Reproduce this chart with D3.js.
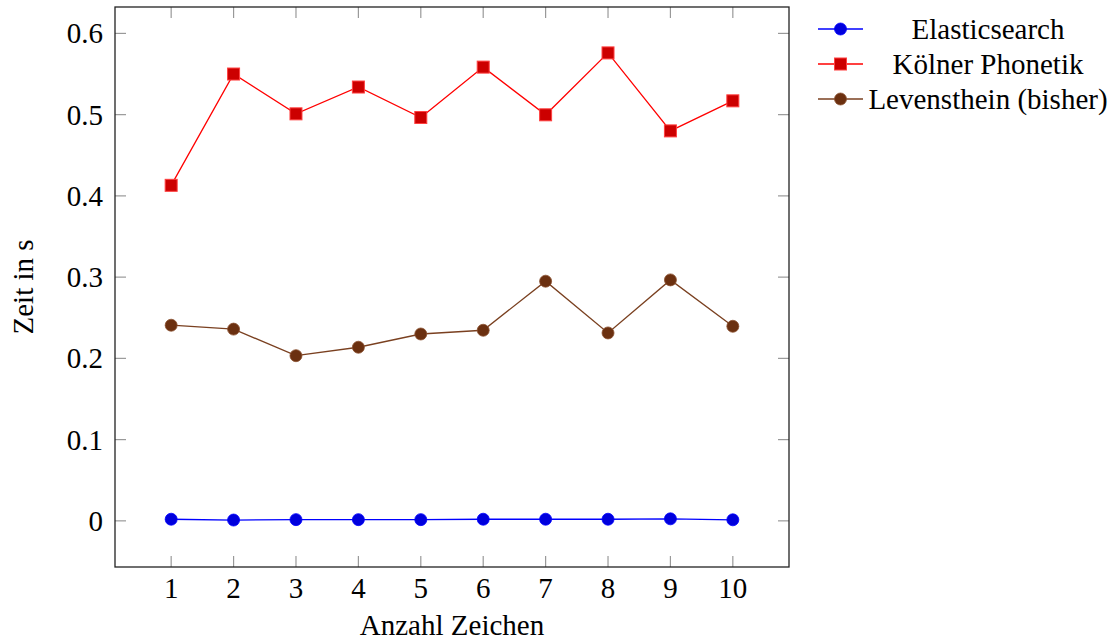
<!DOCTYPE html>
<html>
<head>
<meta charset="utf-8">
<script src="https://cdn.jsdelivr.net/npm/d3@7"></script>
<style>
  html, body { margin: 0; padding: 0; background: #fff; }
  svg { display: block; font-family: "Liberation Serif", "Times New Roman", serif; }
</style>
</head>
<body>
<div id="chart"></div>
<script>
// Data
const zeichen = [1, 2, 3, 4, 5, 6, 7, 8, 9, 10];
const elasticsearch = [0.002, 0.001, 0.0015, 0.0015, 0.0015, 0.002, 0.002, 0.002, 0.0025, 0.0013];
const koelnerPhonetik = [0.413, 0.550, 0.501, 0.534, 0.4965, 0.5585, 0.4998, 0.576, 0.480, 0.517];
const levenshtein = [0.2408, 0.236, 0.2033, 0.2137, 0.230, 0.2346, 0.295, 0.2313, 0.2966, 0.2395];
const yTicks = [0, 0.1, 0.2, 0.3, 0.4, 0.5, 0.6];

const series = [
  { name: "Elasticsearch", values: elasticsearch, line: "#0000ff", fill: "#0000dd", stroke: "#0000ff", mark: "circle" },
  { name: "Kölner Phonetik", values: koelnerPhonetik, line: "#ff0000", fill: "#cc0000", stroke: "#ff4040", mark: "square" },
  { name: "Levensthein (bisher)", values: levenshtein, line: "#7a4020", fill: "#6b3010", stroke: "#8a5030", mark: "circle" }
];

const width = 1115, height = 640;
const margin = { left: 115, right: 326, top: 7, bottom: 73 };
const fs = 29;

const svg = d3.select("#chart").append("svg")
  .attr("width", width)
  .attr("height", height);

const x = d3.scaleLinear()
  .domain([0.1, 10.9])
  .range([margin.left, width - margin.right]);

const y = d3.scaleLinear()
  .domain([-0.0568, 0.6325])
  .range([height - margin.bottom, margin.top]);

const tickLen = 11;
const tickColor = "#999";

// mirrored inward ticks
const gTicks = svg.append("g");
gTicks.selectAll("line.xb").data(zeichen).enter().append("line")
  .attr("x1", d => x(d)).attr("x2", d => x(d))
  .attr("y1", y.range()[0]).attr("y2", y.range()[0] - tickLen)
  .attr("stroke", tickColor).attr("stroke-width", 1.2);
gTicks.selectAll("line.xt").data(zeichen).enter().append("line")
  .attr("x1", d => x(d)).attr("x2", d => x(d))
  .attr("y1", y.range()[1]).attr("y2", y.range()[1] + tickLen)
  .attr("stroke", tickColor).attr("stroke-width", 1.2);
gTicks.selectAll("line.yl").data(yTicks).enter().append("line")
  .attr("y1", d => y(d)).attr("y2", d => y(d))
  .attr("x1", x.range()[0]).attr("x2", x.range()[0] + tickLen)
  .attr("stroke", tickColor).attr("stroke-width", 1.2);
gTicks.selectAll("line.yr").data(yTicks).enter().append("line")
  .attr("y1", d => y(d)).attr("y2", d => y(d))
  .attr("x1", x.range()[1]).attr("x2", x.range()[1] - tickLen)
  .attr("stroke", tickColor).attr("stroke-width", 1.2);

// frame
svg.append("rect")
  .attr("x", x.range()[0]).attr("y", y.range()[1])
  .attr("width", x.range()[1] - x.range()[0])
  .attr("height", y.range()[0] - y.range()[1])
  .attr("fill", "none").attr("stroke", "#222").attr("stroke-width", 1.3);

// tick labels
svg.append("g").selectAll("text").data(zeichen).enter().append("text")
  .attr("x", d => x(d)).attr("y", 598)
  .attr("text-anchor", "middle").attr("font-size", fs)
  .text(d => d);
svg.append("g").selectAll("text").data(yTicks).enter().append("text")
  .attr("x", x.range()[0] - 12).attr("y", d => y(d) + 10)
  .attr("text-anchor", "end").attr("font-size", fs)
  .text(d => d3.format("")(d));

// axis labels
svg.append("text")
  .attr("x", (x.range()[0] + x.range()[1]) / 2).attr("y", 635)
  .attr("text-anchor", "middle").attr("font-size", fs)
  .text("Anzahl Zeichen");
svg.append("text")
  .attr("transform", `translate(33,${(y.range()[0] + y.range()[1]) / 2}) rotate(-90)`)
  .attr("text-anchor", "middle").attr("font-size", fs)
  .text("Zeit in s");

const line = d3.line().x((d, i) => x(zeichen[i])).y(d => y(d));

function drawMark(g, s, cx, cy) {
  if (s.mark === "square") {
    g.append("rect")
      .attr("x", cx - 6).attr("y", cy - 6).attr("width", 12).attr("height", 12)
      .attr("fill", s.fill).attr("stroke", s.stroke).attr("stroke-width", 1);
  } else {
    g.append("circle")
      .attr("cx", cx).attr("cy", cy).attr("r", 6)
      .attr("fill", s.fill).attr("stroke", s.stroke).attr("stroke-width", 0.8);
  }
}

series.forEach(s => {
  const g = svg.append("g");
  g.append("path")
    .attr("d", line(s.values))
    .attr("fill", "none").attr("stroke", s.line).attr("stroke-width", 1.3);
  s.values.forEach((v, i) => drawMark(g, s, x(zeichen[i]), y(v)));
});

// legend
const legend = svg.append("g");
series.forEach((s, i) => {
  const ly = 29 + i * 35;
  legend.append("line")
    .attr("x1", 818).attr("x2", 863).attr("y1", ly).attr("y2", ly)
    .attr("stroke", s.line).attr("stroke-width", 1.3);
  drawMark(legend, s, 840.5, ly);
  legend.append("text")
    .attr("x", 988).attr("y", ly + 10)
    .attr("text-anchor", "middle").attr("font-size", fs)
    .text(s.name);
});
</script>
</body>
</html>
